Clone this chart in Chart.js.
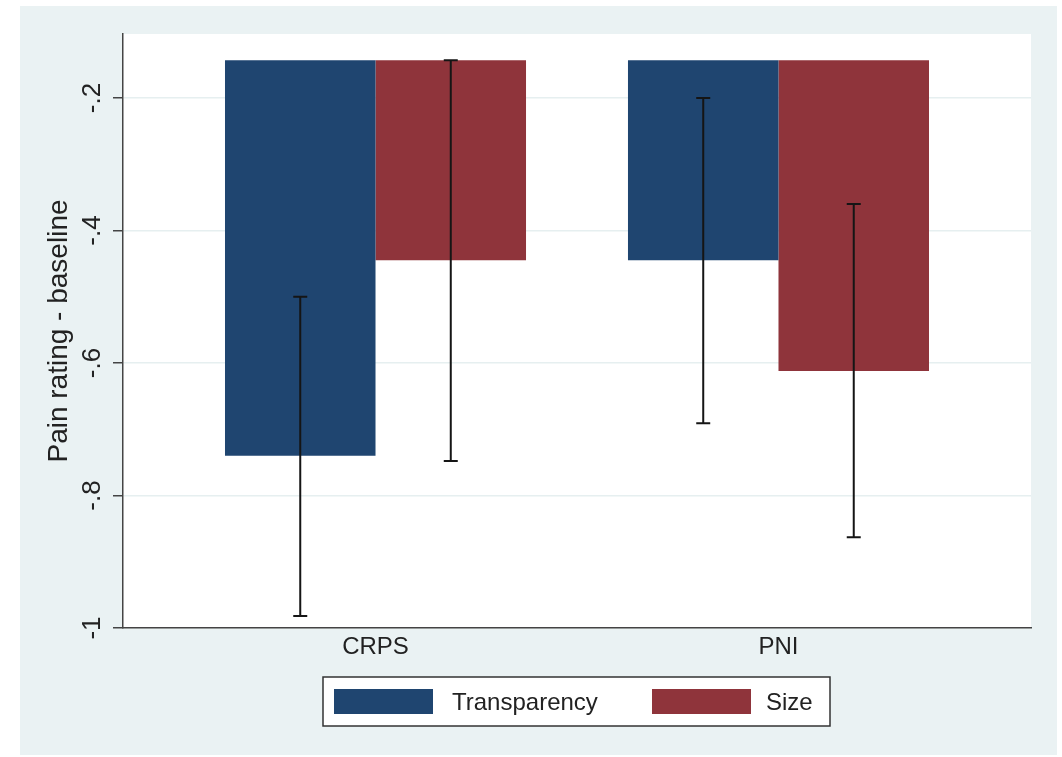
<!DOCTYPE html>
<html>
<head>
<meta charset="utf-8">
<script src="https://cdn.jsdelivr.net/npm/chart.js@4/dist/chart.umd.min.js"></script>
<style>
    html, body { margin: 0; padding: 0; background: #ffffff; }
    #wrap { width: 1062px; height: 757px; position: relative; }
</style>
</head>
<body>
<div id="wrap"><canvas id="painChart"></canvas></div>
<script>
// データ
const categories = ['CRPS', 'PNI'];
const seriesNames = ['Transparency', 'Size'];
const barBase = -0.143;
const transparency = [-0.740, -0.445];
const size = [-0.445, -0.612];
const transparencyLow = [-0.982, -0.691];
const transparencyHigh = [-0.500, -0.200];
const sizeLow = [-0.748, -0.863];
const sizeHigh = [-0.143, -0.360];
const yTicks = [-1, -0.8, -0.6, -0.4, -0.2];

const colors = ['#1f4570', '#8f343b'];
const FONT = "'Liberation Sans', Arial, Helvetica, sans-serif";

// 軸ラベルの書式 (-.2, -1)
function fmtTick(v) {
    if (Number.isInteger(v)) return String(v);
    return v.toFixed(1).replace('0.', '.');
}

// 背景（外枠と描画領域）
const backgroundPlugin = {
    id: 'background',
    beforeDraw(chart) {
        const { ctx, chartArea } = chart;
        ctx.save();
        ctx.fillStyle = '#ffffff';
        ctx.fillRect(0, 0, chart.width, chart.height);
        ctx.fillStyle = '#eaf2f3';
        ctx.fillRect(20, 6, 1037, 749);
        ctx.fillStyle = '#ffffff';
        ctx.fillRect(chartArea.left, chartArea.top,
            chartArea.right - chartArea.left, chartArea.bottom - chartArea.top);
        ctx.restore();
    }
};

// エラーバー
const errorBarPlugin = {
    id: 'errorBars',
    afterDatasetsDraw(chart) {
        const { ctx } = chart;
        const yScale = chart.scales.y;
        const lows = [transparencyLow, sizeLow];
        const highs = [transparencyHigh, sizeHigh];
        ctx.save();
        ctx.strokeStyle = '#151515';
        ctx.lineWidth = 2;
        chart.data.datasets.forEach((ds, i) => {
            const meta = chart.getDatasetMeta(i);
            meta.data.forEach((bar, j) => {
                const yLo = yScale.getPixelForValue(lows[i][j]);
                const yHi = yScale.getPixelForValue(highs[i][j]);
                ctx.beginPath();
                ctx.moveTo(bar.x, yLo);
                ctx.lineTo(bar.x, yHi);
                ctx.moveTo(bar.x - 7, yLo);
                ctx.lineTo(bar.x + 7, yLo);
                ctx.moveTo(bar.x - 7, yHi);
                ctx.lineTo(bar.x + 7, yHi);
                ctx.stroke();
            });
        });
        ctx.restore();
    }
};

// 縦書きの目盛ラベルと凡例
const labelsPlugin = {
    id: 'labels',
    afterDraw(chart) {
        const { ctx } = chart;
        const yScale = chart.scales.y;
        ctx.save();
        ctx.fillStyle = '#222222';
        ctx.font = '26px ' + FONT;
        ctx.textAlign = 'center';
        ctx.textBaseline = 'middle';
        yScale.ticks.forEach((t) => {
            const y = yScale.getPixelForValue(t.value);
            ctx.save();
            ctx.translate(93, y);
            ctx.rotate(-Math.PI / 2);
            ctx.fillText(fmtTick(t.value), 0, 0);
            ctx.restore();
        });

        // 凡例
        ctx.fillStyle = '#ffffff';
        ctx.fillRect(323, 677, 507, 49);
        ctx.strokeStyle = '#333333';
        ctx.lineWidth = 1.5;
        ctx.strokeRect(323, 677, 507, 49);
        const swatchX = [334, 652];
        const textX = [452, 766];
        ctx.font = '24px ' + FONT;
        ctx.textAlign = 'left';
        chart.data.datasets.forEach((ds, i) => {
            ctx.fillStyle = ds.backgroundColor;
            ctx.fillRect(swatchX[i], 689, 99, 25);
            ctx.fillStyle = '#222222';
            ctx.fillText(ds.label, textX[i], 703);
        });
        ctx.restore();
    }
};

function initChart() {
    const ctx = document.getElementById('painChart');
    const series = [transparency, size];

    new Chart(ctx, {
        type: 'bar',
        data: {
            datasets: series.map((vals, i) => ({
                label: seriesNames[i],
                data: vals.map((v, j) => ({ x: j, y: [barBase, v] })),
                backgroundColor: colors[i],
                borderWidth: 0,
                borderSkipped: false,
                barPercentage: 1,
                categoryPercentage: 0.747
            }))
        },
        options: {
            responsive: true,
            maintainAspectRatio: false,
            animation: false,
            layout: {
                padding: { top: 34, right: 31, left: 0, bottom: 0 }
            },
            plugins: {
                legend: { display: false },
                tooltip: { enabled: false }
            },
            scales: {
                x: {
                    type: 'linear',
                    offset: false,
                    min: -0.6266,
                    max: 1.6266,
                    afterBuildTicks(scale) {
                        scale.ticks = categories.map((c, i) => ({ value: i }));
                    },
                    afterFit(scale) {
                        scale.height = 129;
                    },
                    grid: { display: false, drawTicks: false },
                    border: { color: '#444444', width: 1.5 },
                    ticks: {
                        padding: 5,
                        color: '#222222',
                        font: { family: FONT, size: 24 },
                        maxRotation: 0,
                        callback: (v) => categories[v]
                    }
                },
                y: {
                    min: -1,
                    max: -0.1034,
                    afterBuildTicks(scale) {
                        scale.ticks = yTicks.map((v) => ({ value: v }));
                    },
                    afterFit(scale) {
                        scale.width = 123;
                    },
                    grid: {
                        color: '#e6eff0',
                        lineWidth: 1.5,
                        drawTicks: true,
                        tickLength: 10,
                        tickColor: '#444444',
                        tickWidth: 1.5
                    },
                    border: { color: '#444444', width: 1.5 },
                    ticks: { display: false },
                    title: {
                        display: true,
                        text: 'Pain rating - baseline',
                        color: '#222222',
                        font: { family: FONT, size: 28, lineHeight: 1.2 },
                        padding: { top: 42, bottom: 0 }
                    }
                }
            }
        },
        plugins: [backgroundPlugin, errorBarPlugin, labelsPlugin]
    });
}

document.addEventListener('DOMContentLoaded', initChart);
</script>
</body>
</html>
